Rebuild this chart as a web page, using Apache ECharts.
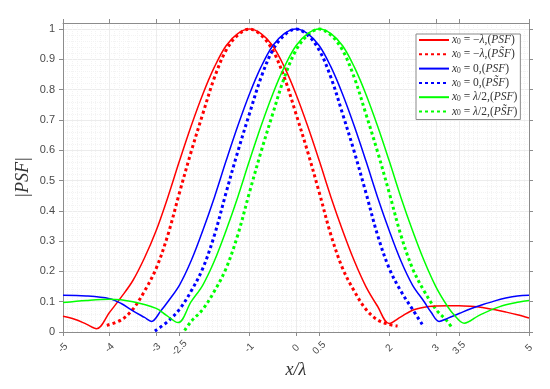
<!DOCTYPE html>
<html>
<head>
<meta charset="utf-8">
<script src="https://cdn.jsdelivr.net/npm/echarts@6/dist/echarts.min.js"></script>
<style>html,body{margin:0;padding:0;background:#fff}#c{width:550px;height:389px}</style>
</head>
<body>
<div id="c"></div>
<script>
const xTicks = [-5, -4, -3, -2.5, -1, 0, 0.5, 2, 3, 3.5, 5];
const yTicks = [0, 0.1, 0.2, 0.3, 0.4, 0.5, 0.6, 0.7, 0.8, 0.9, 1];

const redSolidX = [-5, -4.75, -4.5, -4.28, -4.0, -3.75, -3.5, -3.25, -3.0, -2.75, -2.5, -2.25, -2.0, -1.75, -1.5, -1.25, -1.0, -0.75, -0.5, -0.25, 0, 0.25, 0.5, 0.75, 1.0, 1.25, 1.5, 1.75, 2.0, 2.25, 2.5, 2.75, 3.0, 3.25, 3.5, 3.75, 4.0, 4.25, 4.5, 4.75, 5];
const redSolidY = [0.052, 0.042, 0.026, 0.011, 0.065, 0.115, 0.17, 0.245, 0.335, 0.445, 0.565, 0.68, 0.785, 0.875, 0.945, 0.985, 1.0, 0.985, 0.945, 0.875, 0.785, 0.68, 0.565, 0.445, 0.335, 0.235, 0.15, 0.085, 0.028, 0.05, 0.072, 0.082, 0.086, 0.087, 0.087, 0.085, 0.081, 0.074, 0.066, 0.057, 0.046];

const redDashX = [-4.06, -3.75, -3.5, -3.25, -3.0, -2.75, -2.5, -2.25, -2.0, -1.75, -1.5, -1.25, -1.0, -0.75, -0.5, -0.25, 0, 0.25, 0.5, 0.75, 1.0, 1.25, 1.5, 1.75, 2.0, 2.18];
const redDashY = [0.022, 0.04, 0.075, 0.135, 0.21, 0.32, 0.46, 0.595, 0.72, 0.84, 0.93, 0.98, 1.0, 0.98, 0.93, 0.84, 0.72, 0.595, 0.46, 0.32, 0.21, 0.135, 0.075, 0.04, 0.025, 0.02];

const blueSolidX = [-5, -4.5, -4.0, -3.75, -3.5, -3.25, -3.1, -2.9, -2.75, -2.5, -2.25, -2.0, -1.75, -1.5, -1.25, -1.0, -0.75, -0.5, -0.25, 0, 0.25, 0.5, 0.75, 1.0, 1.25, 1.5, 1.75, 2.0, 2.25, 2.5, 2.75, 2.9, 3.07, 3.25, 3.5, 3.75, 4.0, 4.25, 4.5, 4.75, 5];
const blueSolidY = [0.121, 0.119, 0.110, 0.094, 0.07, 0.048, 0.035, 0.07, 0.1, 0.155, 0.235, 0.335, 0.445, 0.565, 0.68, 0.785, 0.875, 0.945, 0.985, 1.0, 0.985, 0.945, 0.875, 0.785, 0.68, 0.565, 0.445, 0.335, 0.235, 0.155, 0.1, 0.065, 0.035, 0.045, 0.061, 0.077, 0.09, 0.102, 0.112, 0.119, 0.121];

const blueDashX = [-3.03, -2.75, -2.5, -2.25, -2.0, -1.75, -1.5, -1.25, -1.0, -0.75, -0.5, -0.25, 0, 0.25, 0.5, 0.75, 1.0, 1.25, 1.5, 1.75, 2.0, 2.25, 2.5, 2.73];
const blueDashY = [0.003, 0.035, 0.075, 0.135, 0.21, 0.32, 0.46, 0.595, 0.72, 0.84, 0.93, 0.98, 1.0, 0.98, 0.93, 0.84, 0.72, 0.595, 0.46, 0.32, 0.21, 0.135, 0.075, 0.02];

const greenSolidX = [-5, -4.5, -4.0, -3.5, -3.0, -2.78, -2.53, -2.25, -2.0, -1.75, -1.5, -1.25, -1.0, -0.75, -0.5, -0.25, 0, 0.25, 0.5, 0.75, 1.0, 1.25, 1.5, 1.75, 2.0, 2.25, 2.5, 2.75, 3.0, 3.25, 3.4, 3.61, 3.93, 4.36, 4.79, 5];
const greenSolidY = [0.097, 0.104, 0.108, 0.1, 0.078, 0.055, 0.031, 0.1, 0.155, 0.235, 0.335, 0.445, 0.565, 0.68, 0.785, 0.875, 0.945, 0.985, 1.0, 0.985, 0.945, 0.875, 0.785, 0.68, 0.565, 0.445, 0.335, 0.235, 0.15, 0.085, 0.055, 0.029, 0.055, 0.083, 0.099, 0.104];

const greenDashX = [-2.39, -2.25, -2.0, -1.75, -1.5, -1.25, -1.0, -0.75, -0.5, -0.25, 0, 0.25, 0.5, 0.75, 1.0, 1.25, 1.5, 1.75, 2.0, 2.25, 2.5, 2.75, 3.0, 3.25, 3.36];
const greenDashY = [0.005, 0.035, 0.075, 0.135, 0.21, 0.32, 0.46, 0.595, 0.72, 0.84, 0.93, 0.98, 1.0, 0.98, 0.93, 0.84, 0.72, 0.595, 0.46, 0.32, 0.21, 0.135, 0.075, 0.035, 0.01];

const seriesNames = ['redSolid', 'redDash', 'blueSolid', 'blueDash', 'greenSolid', 'greenDash'];
const legendLabels = {
  redSolid: '{m|x}{s|0}{n| = −}{m|λ}{n|,(}{m|PSF}{n|)}',
  redDash: '{m|x}{s|0}{n| = −}{m|λ}{n|,(}{m|PS\u0303F}{n|)}',
  blueSolid: '{m|x}{s|0}{n| = 0,(}{m|PSF}{n|)}',
  blueDash: '{m|x}{s|0}{n| = 0,(}{m|PS\u0303F}{n|)}',
  greenSolid: '{m|x}{s|0}{n| = }{m|λ}{n|/2,(}{m|PSF}{n|)}',
  greenDash: '{m|x}{s|0}{n| = }{m|λ}{n|/2,(}{m|PS\u0303F}{n|)}'
};

function zip(xs, ys) { return xs.map((x, i) => [x, ys[i]]); }

const solidStyle = (c) => ({ color: c, width: 1.5 });
const dashStyle = (c) => ({ color: c, width: 3, type: [3, 3], cap: 'butt' });

const chart = echarts.init(document.getElementById('c'), null, { renderer: 'canvas' });

const axisGray = '#8c8c8c';
const labelColor = '#4a4a4a';

function mk(name, xs, ys, color, dashed) {
  return {
    name: name, type: 'line', xAxisIndex: 0, yAxisIndex: 0,
    data: zip(xs, ys), showSymbol: false, symbol: 'none', smooth: 0.35,
    lineStyle: dashed ? dashStyle(color) : solidStyle(color),
    itemStyle: { color: color }, z: dashed ? 3 : 4
  };
}

chart.setOption({
  animation: false,
  backgroundColor: '#fff',
  grid: { left: 63, right: 21, top: 23, bottom: 57, containLabel: false, outerBoundsMode: 'none' },
  legend: {
    orient: 'vertical', left: 416, top: 34,
    data: seriesNames,
    itemWidth: 30, itemHeight: 10, itemGap: 2.3,
    padding: [0, 3, 2, 2],
    backgroundColor: '#fff', borderColor: '#8a8a8a', borderWidth: 1, borderRadius: 0,
    itemStyle: { color: 'rgba(0,0,0,0)', borderWidth: 0, opacity: 0 },
    formatter: (n) => legendLabels[n],
    textStyle: {
      color: '#333', padding: [0, 0, 0, -2],
      rich: {
        m: { fontFamily: 'Liberation Serif', fontStyle: 'italic', fontSize: 11.5, color: '#333', lineHeight: 12 },
        n: { fontFamily: 'Liberation Serif', fontSize: 11.5, color: '#333', lineHeight: 12 },
        s: { fontFamily: 'Liberation Serif', fontSize: 7.5, color: '#333', lineHeight: 12, verticalAlign: 'bottom' }
      }
    }
  },
  xAxis: [{
    type: 'value', min: -5, max: 5, interval: 0.5, position: 'bottom',
    name: 'x/λ', nameLocation: 'middle', nameGap: 29, nameMoveOverlap: false,
    nameTextStyle: { fontFamily: 'Liberation Serif', fontStyle: 'italic', fontSize: 18, color: '#333' },
    axisLine: { show: true, onZero: false, lineStyle: { color: axisGray, width: 1 } },
    axisTick: { show: true, inside: false, length: 4, customValues: xTicks, lineStyle: { color: axisGray } },
    axisLabel: { customValues: xTicks, rotate: 45, align: 'center', verticalAlign: 'middle', margin: 16, fontSize: 10, fontFamily: 'Liberation Sans', color: labelColor, formatter: (v) => String(v) },
    splitLine: { show: true, lineStyle: { color: '#ececec', width: 1 } },
    minorTick: { show: false, splitNumber: 5 },
    minorSplitLine: { show: true, lineStyle: { color: '#f3f3f3', width: 1, type: [1, 1] } }
  }, {
    type: 'value', min: -5, max: 5, interval: 0.5, position: 'top',
    axisLine: { show: true, onZero: false, lineStyle: { color: axisGray, width: 1 } },
    axisTick: { show: true, inside: false, length: 4, customValues: xTicks, lineStyle: { color: axisGray } },
    axisLabel: { show: false },
    splitLine: { show: false }
  }],
  yAxis: [{
    type: 'value', min: 0, max: 1.02, interval: 0.1, position: 'left',
    name: '|PSF|', nameLocation: 'middle', nameGap: 31, nameRotate: 90, nameMoveOverlap: false,
    nameTextStyle: { fontFamily: 'Liberation Serif', fontStyle: 'italic', fontSize: 18, color: '#333' },
    axisLine: { show: true, onZero: false, lineStyle: { color: axisGray, width: 1 } },
    axisTick: { show: true, inside: false, length: 4, customValues: yTicks, lineStyle: { color: axisGray } },
    axisLabel: { customValues: yTicks, margin: 8, fontSize: 11, fontFamily: 'Liberation Sans', color: labelColor, formatter: (v) => String(Math.round(v * 10) / 10) },
    splitLine: { show: true, lineStyle: { color: '#ececec', width: 1 } },
    minorTick: { show: false, splitNumber: 5 },
    minorSplitLine: { show: true, lineStyle: { color: '#f3f3f3', width: 1, type: [1, 1] } }
  }, {
    type: 'value', min: 0, max: 1.02, interval: 0.1, position: 'right',
    axisLine: { show: true, onZero: false, lineStyle: { color: axisGray, width: 1 } },
    axisTick: { show: true, inside: false, length: 4, customValues: yTicks, lineStyle: { color: axisGray } },
    axisLabel: { show: false },
    splitLine: { show: false }
  }],
  series: [
    mk('redSolid', redSolidX, redSolidY, '#ff0000', false),
    mk('redDash', redDashX, redDashY, '#ff0000', true),
    mk('blueSolid', blueSolidX, blueSolidY, '#0000ff', false),
    mk('blueDash', blueDashX, blueDashY, '#0000ff', true),
    mk('greenSolid', greenSolidX, greenSolidY, '#00ff00', false),
    mk('greenDash', greenDashX, greenDashY, '#00ff00', true)
  ]
});
</script>
</body>
</html>
